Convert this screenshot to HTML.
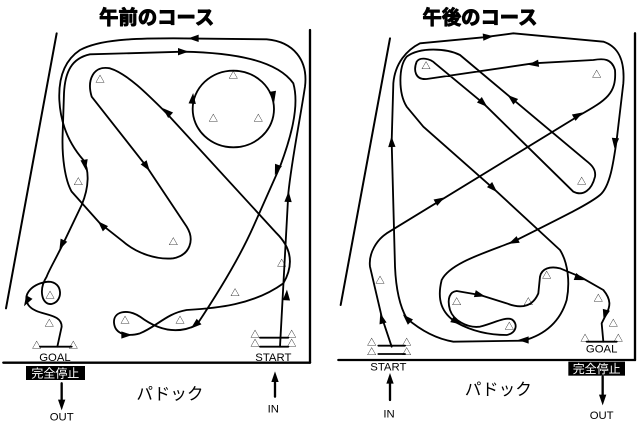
<!DOCTYPE html>
<html><head><meta charset="utf-8"><style>
html,body{margin:0;padding:0;background:#fff;}
svg{display:block;}
text{font-family:"Liberation Sans","Noto Sans CJK JP",sans-serif;}
</style></head><body>
<svg width="640" height="431" viewBox="0 0 640 431" xmlns="http://www.w3.org/2000/svg">
<defs>
<polygon id="ah" points="16,0 -16,-11 -16,11" fill="#000"/>
</defs>
<!-- LEFT PANEL -->
<g transform="scale(0.33333)" fill="none" stroke="#000" stroke-width="5.5" stroke-linecap="round" stroke-linejoin="round">
<text x="470" y="72" font-size="58" font-weight="bold" text-anchor="middle" fill="#000" stroke="#000" stroke-width="3">午前のコース</text>
<line x1="170" y1="100" x2="18" y2="925" stroke-width="6"/>
<line x1="930" y1="90" x2="930" y2="1088" stroke-width="7"/>
<line x1="10" y1="1088" x2="930" y2="1088" stroke-width="7"/>
<!-- main path 1: start -> outer -> goal -->
<path d="M840,1040 L865,580 C875,480 900,360 915,260 C925,180 880,125 800,118 L520,115 C400,115 300,118 240,150 C195,180 175,230 178,300 C182,380 215,440 250,480 C268,510 268,560 245,615 L190,730 C160,790 145,815 140,830 C115,870 125,915 155,912 C190,905 190,845 145,845 C100,850 65,880 85,915 C110,950 185,935 185,980 L172,1040"/>
<!-- main path 2 -->
<path d="M550,155 C700,158 830,180 880,250 C900,320 870,420 840,500 L760,680 C720,770 660,870 590,975 C520,1010 460,980 420,950 C380,925 340,935 342,968 C345,1005 385,1010 420,1000 C470,980 500,940 560,930 C650,925 760,915 850,850 C885,790 870,740 830,700 L500,340 C440,280 380,220 330,205 C280,195 260,240 275,290 L440,500 L560,680 C585,720 570,765 520,775 C470,780 410,760 370,725 L300,670 L215,575 C195,540 185,470 188,400 L192,280 C195,215 215,175 270,163 Z"/>
<ellipse cx="700" cy="327" rx="122" ry="115"/>
<line x1="120" y1="1040" x2="215" y2="1040"/>
<line x1="780" y1="1013" x2="865" y2="1013"/>
<line x1="780" y1="1040" x2="865" y2="1040"/>
<line x1="185" y1="1150" x2="185" y2="1205" stroke-width="7"/>
<line x1="825" y1="1190" x2="825" y2="1140" stroke-width="7"/>
</g>
<g transform="scale(0.33333)" fill="#000" stroke="none">
<use href="#ah" transform="translate(580,115) rotate(180)"/>
<use href="#ah" transform="translate(550,155) rotate(0)"/>
<use href="#ah" transform="translate(255,495) rotate(80)"/>
<use href="#ah" transform="translate(185,735) rotate(115)"/>
<use href="#ah" transform="translate(80,905) rotate(120)"/>
<use href="#ah" transform="translate(440,500) rotate(55)"/>
<use href="#ah" transform="translate(305,675) rotate(225)"/>
<use href="#ah" transform="translate(500,335) rotate(222)"/>
<use href="#ah" transform="translate(820,290) rotate(80)"/>
<use href="#ah" transform="translate(578,295) rotate(275)"/>
<use href="#ah" transform="translate(830,510) rotate(110)"/>
<use href="#ah" transform="translate(865,590) rotate(273)"/>
<use href="#ah" transform="translate(860,885) rotate(273)"/>
<use href="#ah" transform="translate(585,975) rotate(140)"/>
<use href="#ah" transform="translate(380,1005) rotate(0)"/>
<use href="#ah" transform="translate(185,1215) rotate(90)"/>
<use href="#ah" transform="translate(825,1130) rotate(270)"/>
<g font-size="28" text-anchor="middle">
<text x="300" y="248">△</text><text x="700" y="235">△</text><text x="640" y="365">△</text><text x="775" y="365">△</text>
<text x="235" y="555">△</text><text x="520" y="735">△</text><text x="845" y="800">△</text><text x="705" y="888">△</text>
<text x="150" y="895">△</text><text x="148" y="980">△</text><text x="375" y="970">△</text><text x="540" y="970">△</text>
<text x="110" y="1045">△</text><text x="220" y="1045">△</text><text x="765" y="1013">△</text><text x="875" y="1013">△</text>
<text x="765" y="1040">△</text><text x="875" y="1040">△</text>
</g>
<text x="165" y="1083" font-size="34" text-anchor="middle">GOAL</text>
<text x="820" y="1083" font-size="34" text-anchor="middle">START</text>
<rect x="78" y="1098" width="177" height="42"/>
<text x="166" y="1133" font-size="36" text-anchor="middle" fill="#fff">完全停止</text>
<text x="185" y="1262" font-size="34" text-anchor="middle">OUT</text>
<text x="820" y="1238" font-size="34" text-anchor="middle">IN</text>
<text x="510" y="1198" font-size="50" text-anchor="middle">パドック</text>
</g>

<!-- RIGHT PANEL -->
<g transform="translate(320,0) scale(0.33333)" fill="none" stroke="#000" stroke-width="5.5" stroke-linecap="round" stroke-linejoin="round">
<text x="480" y="72" font-size="58" font-weight="bold" text-anchor="middle" fill="#000" stroke="#000" stroke-width="3">午後のコース</text>
<line x1="210" y1="115" x2="62" y2="915" stroke-width="6"/>
<line x1="945" y1="100" x2="945" y2="1080" stroke-width="7"/>
<line x1="55" y1="1080" x2="945" y2="1080" stroke-width="7"/>
<path d="M215,1040 L185,950 L150,800 C145,760 170,720 200,700 L780,345 C860,300 890,280 885,210 C875,175 850,175 820,180 L640,190 L320,237 C285,240 280,210 290,185 C300,170 330,175 345,190 L490,310 L760,575 C790,590 815,570 825,530 C830,500 800,485 790,475 L575,295 L420,165 C380,145 300,140 260,170 C235,200 235,280 260,320 L310,380 L525,570 L720,750 C745,790 750,850 740,900 C725,950 690,1000 610,1022 L400,1025 C340,1015 295,985 260,955 C240,920 228,870 225,800 L215,425 L220,250 C225,190 260,150 300,130 L490,112 L580,100 L850,125 C895,140 915,180 910,250 L890,420 C880,490 870,560 840,585 C810,610 750,640 580,725 C490,760 390,790 365,840 C350,900 365,940 410,968 C450,990 500,1005 560,1005 C590,1000 595,970 575,958 C555,950 520,970 480,980 C440,985 400,960 390,930 C380,895 390,875 410,873 L480,885 L560,910 C610,930 640,915 655,880 L660,830 C665,805 690,798 720,805 L780,830 L850,870 C875,900 870,920 860,940 L845,970 L850,1025"/>
<line x1="800" y1="1025" x2="890" y2="1025"/>
<line x1="175" y1="1037" x2="255" y2="1037"/>
<line x1="175" y1="1062" x2="255" y2="1062"/>
<line x1="210" y1="1200" x2="210" y2="1145" stroke-width="7"/>
<line x1="848" y1="1130" x2="848" y2="1190" stroke-width="7"/>
</g>
<g transform="translate(320,0) scale(0.33333)" fill="#000" stroke="none">
<use href="#ah" transform="translate(505,110) rotate(355)"/>
<use href="#ah" transform="translate(640,192) rotate(172)"/>
<use href="#ah" transform="translate(490,310) rotate(42)"/>
<use href="#ah" transform="translate(575,295) rotate(220)"/>
<use href="#ah" transform="translate(775,345) rotate(330)"/>
<use href="#ah" transform="translate(885,430) rotate(95)"/>
<use href="#ah" transform="translate(360,600) rotate(330)"/>
<use href="#ah" transform="translate(520,565) rotate(45)"/>
<use href="#ah" transform="translate(580,725) rotate(155)"/>
<use href="#ah" transform="translate(215,425) rotate(268)"/>
<use href="#ah" transform="translate(185,955) rotate(255)"/>
<use href="#ah" transform="translate(260,955) rotate(225)"/>
<use href="#ah" transform="translate(480,885) rotate(15)"/>
<use href="#ah" transform="translate(410,965) rotate(30)"/>
<use href="#ah" transform="translate(610,1020) rotate(180)"/>
<use href="#ah" transform="translate(780,835) rotate(20)"/>
<use href="#ah" transform="translate(855,945) rotate(105)"/>
<use href="#ah" transform="translate(210,1135) rotate(270)"/>
<use href="#ah" transform="translate(848,1200) rotate(90)"/>
<g font-size="28" text-anchor="middle">
<text x="318" y="207">△</text><text x="830" y="232">△</text><text x="785" y="553">△</text><text x="180" y="850">△</text>
<text x="410" y="915">△</text><text x="625" y="915">△</text><text x="680" y="835">△</text><text x="835" y="905">△</text>
<text x="880" y="980">△</text><text x="568" y="988">△</text><text x="795" y="1025">△</text><text x="895" y="1025">△</text>
<text x="155" y="1037">△</text><text x="260" y="1037">△</text><text x="155" y="1065">△</text><text x="260" y="1065">△</text>
</g>
<text x="845" y="1058" font-size="34" text-anchor="middle">GOAL</text>
<text x="205" y="1112" font-size="34" text-anchor="middle">START</text>
<rect x="745" y="1085" width="170" height="42"/>
<text x="830" y="1119" font-size="36" text-anchor="middle" fill="#fff">完全停止</text>
<text x="845" y="1257" font-size="34" text-anchor="middle">OUT</text>
<text x="207" y="1252" font-size="34" text-anchor="middle">IN</text>
<text x="535" y="1185" font-size="50" text-anchor="middle">パドック</text>
</g>
</svg>
</body></html>
